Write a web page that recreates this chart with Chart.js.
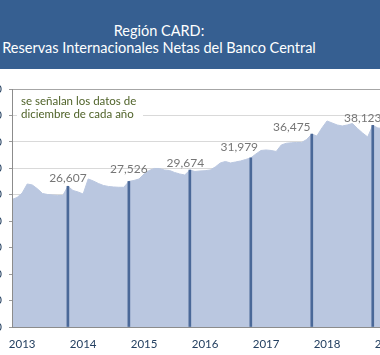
<!DOCTYPE html>
<html>
<head>
<meta charset="utf-8">
<script src="https://cdn.jsdelivr.net/npm/chart.js@4"></script>
<style>
  html, body { margin: 0; padding: 0; background: #ffffff; }
  body { width: 380px; height: 355px; overflow: hidden; position: relative; }
  #banner { position: absolute; left: 0; top: 0; width: 380px; height: 69px; background: #365F91; z-index: 2; }
  .tl { position: absolute; left: 0; width: 318px; text-align: center; color: #ffffff; font-family: Lato, sans-serif; font-size: 14.5px; white-space: nowrap; }
  #wrap { position: absolute; left: -48px; top: 0; width: 436px; height: 355px; }
</style>
</head>
<body>
<div id="banner">
  <div class="tl" style="top:22px">Región CARD:</div>
  <div class="tl" style="top:39px">Reservas Internacionales Netas del Banco Central</div>
</div>
<div id="wrap"><canvas id="c" width="436" height="355"></canvas></div>
<script>
// ---- data ----
const years = ['2013', '2014', '2015', '2016', '2017', '2018', '2019'];
const monthNames = ['ene', 'feb', 'mar', 'abr', 'may', 'jun', 'jul', 'ago', 'sep', 'oct', 'nov', 'dic'];
// monthly net international reserves (millions US$), Jan 2013 - Feb 2019
const reservas = [
  24110, 24488, 25339, 27041, 26852, 26134, 25245, 25056, 24961, 24867, 24867, 26607,
  25813, 25529, 25150, 27987, 27609, 27136, 26758, 26569, 26474, 26418, 26418, 27526,
  27703, 27987, 28932, 29594, 29972, 29972, 29689, 29594, 29216, 28932, 28743, 29674,
  29405, 29500, 29557, 29689, 30256, 31012, 31296, 31012, 31202, 31391, 31674, 31979,
  32714, 33376, 33471, 33376, 33187, 34416, 34738, 34833, 34889, 34889, 35456, 36475,
  36118, 37631, 38955, 38576, 38198, 38009, 38198, 38482, 37537, 36685, 35929, 38123,
  37631, 37537
];
// December values highlighted
const decYears = ['2013', '2014', '2015', '2016', '2017', '2018'];
const decValues = [26607, 27526, 29674, 31979, 36475, 38123];
const yTicks = [0, 5000, 10000, 15000, 20000, 25000, 30000, 35000, 40000, 45000];
const noteLines = ['se señalan los datos de', 'diciembre de cada año'];

// ---- build tables ----
const categories = [];
years.forEach(y => monthNames.forEach(m => categories.push(m + '-' + y)));
const nCat = 75; // Jan 2013 .. Mar 2019
categories.length = nCat;
const decSeries = categories.map(c => {
  const [m, y] = c.split('-');
  const k = decYears.indexOf(y);
  return (m === 'dic' && k >= 0) ? decValues[k] : null;
});

// label offsets (px) relative to the top of each December bar
const labelOffsets = [[0, -4], [0, -8], [-4.5, -3], [-11.5, -6.5], [-20, -3], [-10, -3]];

const decLabelPlugin = {
  id: 'decLabels',
  afterDatasetsDraw(chart) {
    const ctx = chart.ctx;
    const meta = chart.getDatasetMeta(0);
    let k = 0;
    ctx.save();
    ctx.font = '12px Lato, sans-serif';
    ctx.fillStyle = '#767676';
    ctx.textAlign = 'center';
    ctx.textBaseline = 'alphabetic';
    meta.data.forEach((el, i) => {
      const v = decSeries[i];
      if (v == null) return;
      const off = labelOffsets[k] || [0, -4];
      ctx.fillText(v.toLocaleString('en-US'), el.x + off[0], el.y + off[1]);
      k++;
    });
    ctx.restore();
  }
};

const notePlugin = {
  id: 'note',
  afterDraw(chart) {
    const ctx = chart.ctx;
    const a = chart.chartArea;
    ctx.save();
    ctx.fillStyle = '#ffffff';
    ctx.fillRect(a.left + 5, a.top + 2, 126, 30);
    ctx.font = '11.5px Lato, sans-serif';
    ctx.fillStyle = '#4F6228';
    ctx.textAlign = 'left';
    ctx.textBaseline = 'alphabetic';
    ctx.fillText(noteLines[0], a.left + 9, a.top + 15.5);
    ctx.fillText(noteLines[1], a.left + 9, a.top + 29);
    ctx.restore();
  }
};

new Chart(document.getElementById('c'), {
  type: 'line',
  data: {
    labels: categories,
    datasets: [
      {
        type: 'bar',
        data: decSeries,
        backgroundColor: '#4A6898',
        barThickness: 2,
        order: 0
      },
      {
        type: 'line',
        data: reservas,
        fill: 'origin',
        backgroundColor: '#BAC7E0',
        borderColor: '#BAC7E0',
        borderWidth: 1,
        pointRadius: 0,
        tension: 0,
        order: 1
      }
    ]
  },
  options: {
    responsive: false,
    animation: false,
    devicePixelRatio: 1,
    layout: { padding: { top: 89, left: 0, right: 0, bottom: 0 } },
    plugins: { legend: { display: false }, tooltip: { enabled: false }, title: { display: false } },
    scales: {
      x: {
        type: 'category',
        offset: false,
        grid: { display: false, drawTicks: false },
        border: { display: true, color: '#8C8C8C', width: 1, z: 1 },
        ticks: {
          autoSkip: false,
          maxRotation: 0,
          minRotation: 0,
          padding: 10,
          color: '#244061',
          font: { family: 'Lato', size: 11.5 },
          callback: (v, i) => {
            const [m, y] = categories[i].split('-');
            return m === 'mar' ? y : '';
          }
        },
        afterFit: s => { s.height = 28; s.paddingLeft = 0; s.paddingRight = 0; }
      },
      y: {
        min: 0,
        max: 45000,
        afterBuildTicks: s => { s.ticks = yTicks.map(v => ({ value: v })); },
        grid: {
          color: c => (c.tick && c.tick.value === 45000) ? '#A6A6A6' : '#D9D9D9',
          tickColor: '#9A9A9A',
          tickLength: 3
        },
        border: { display: true, color: '#8C8C8C', width: 1, z: 1 },
        ticks: {
          padding: 7,
          color: '#244061',
          font: { family: 'Lato', size: 11.5 },
          callback: v => v.toLocaleString('en-US')
        },
        afterFit: s => { s.width = 60; s.paddingTop = 0; s.paddingBottom = 0; }
      }
    }
  },
  plugins: [decLabelPlugin, notePlugin]
});
</script>
</body>
</html>
